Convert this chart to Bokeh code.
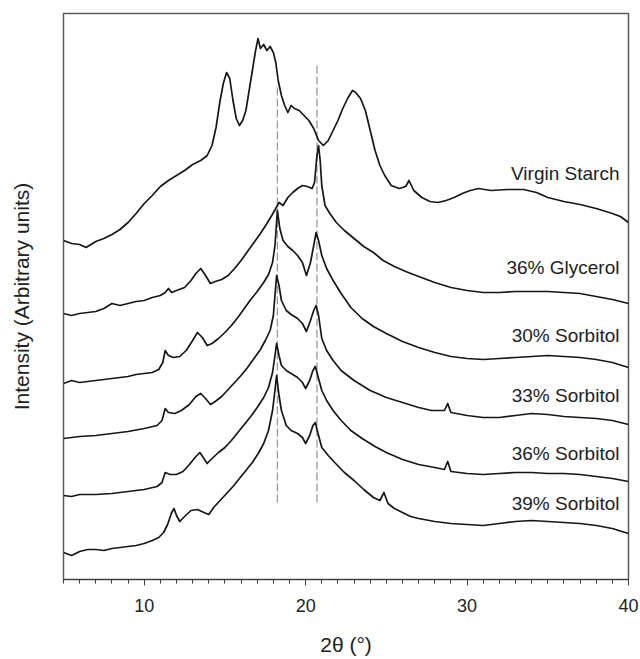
from bokeh.plotting import figure
from bokeh.models import FixedTicker, Range1d
from bokeh.core.properties import value
from bokeh.embed import file_html
from bokeh.resources import INLINE

# ---- data (2theta in degrees, intensity in arbitrary units, stacked as plotted) ----
virgin_x = [5.0, 5.5, 6.0, 6.4, 7.0, 7.5, 8.0, 8.5, 9.0, 9.5, 10.0, 10.5, 11.0, 11.5, 12.0, 12.5,
            13.0, 13.5, 13.9, 14.2, 14.45, 14.7, 14.9, 15.1, 15.3, 15.5, 15.7, 15.9, 16.1, 16.3,
            16.5, 16.7, 16.9, 17.05, 17.2, 17.4, 17.6, 17.8, 18.0, 18.15, 18.3, 18.5, 18.7, 18.9,
            19.1, 19.3, 19.6, 19.9, 20.2, 20.5, 20.8, 21.1, 21.4, 21.7, 22.0, 22.3, 22.6, 22.9,
            23.1, 23.4, 23.7, 24.0, 24.3, 24.6, 24.9, 25.3, 25.8, 26.2, 26.4, 26.7, 27.2, 27.7,
            28.2, 28.7, 29.2, 29.7, 30.2, 30.7, 31.5, 32.5, 33.5, 34.3, 35.0, 36.0, 37.0, 38.0,
            39.0, 39.5, 40.0]
virgin_y = [339, 336, 335, 332, 338, 341, 345, 350, 357, 366, 376, 384, 393, 399, 404, 409,
            415, 419, 424, 434, 452, 479, 496, 507, 501, 479, 461, 454, 459, 469,
            489, 509, 529, 541, 531, 535, 529, 533, 527, 517, 499, 484, 474, 467,
            474, 471, 469, 464, 459, 451, 439, 434, 439, 449, 459, 471, 481, 489,
            487, 481, 469, 449, 429, 414, 404, 394, 391, 393, 399, 389, 382, 378,
            377, 379, 382, 386, 389, 391, 389, 390, 390, 387, 382, 378, 375, 371,
            366, 363, 357]

glycerol_x = [5.0, 5.5, 6.0, 6.5, 7.0, 7.5, 8.0, 8.5, 9.0, 9.5, 10.0, 10.5, 11.0, 11.3, 11.5, 11.7,
              12.0, 12.5, 12.9, 13.2, 13.5, 13.8, 14.1, 14.4, 14.8, 15.2, 15.6, 16.0, 16.4, 16.8,
              17.2, 17.6, 17.9, 18.15, 18.35, 18.6, 18.9, 19.2, 19.5, 19.8, 20.1, 20.4, 20.55, 20.7,
              20.8, 20.9, 21.0, 21.2, 21.5, 21.9, 22.4, 23.0, 23.6, 24.2, 24.8, 25.5, 26.2, 27.0,
              28.0, 29.0, 30.0, 31.0, 32.0, 33.0, 34.0, 35.0, 36.0, 37.0, 38.0, 39.0, 40.0]
glycerol_y = [266, 264, 266, 267, 268, 271, 276, 274, 276, 278, 279, 282, 284, 287, 291, 287,
              289, 292, 299, 306, 311, 304, 296, 298, 300, 304, 311, 319, 328, 337,
              346, 356, 364, 371, 377, 374, 382, 387, 391, 394, 393, 391, 397, 424,
              434, 419, 394, 374, 366, 357, 349, 341, 333, 327, 319, 313, 308, 303,
              297, 292, 289, 287, 287, 288, 288, 288, 287, 286, 283, 280, 276]

sorb30_x = [5.0, 5.5, 6.0, 6.5, 7.0, 7.5, 8.0, 8.5, 9.0, 9.5, 10.0, 10.5, 10.9, 11.15, 11.3, 11.5,
            11.8, 12.2, 12.6, 13.0, 13.3, 13.6, 13.9, 14.2, 14.6, 15.0, 15.4, 15.8, 16.2, 16.6,
            17.0, 17.4, 17.7, 17.95, 18.1, 18.25, 18.4, 18.6, 18.9, 19.2, 19.5, 19.8, 20.05, 20.3,
            20.5, 20.65, 20.8, 21.0, 21.3, 21.7, 22.2, 22.8, 23.5, 24.2, 25.0, 26.0, 27.0, 28.0,
            29.0, 30.0, 31.0, 32.0, 33.0, 34.0, 35.0, 36.0, 37.0, 38.0, 39.0, 40.0]
sorb30_y = [196, 199, 197, 198, 199, 200, 201, 202, 203, 205, 206, 207, 210, 217, 229, 224,
            222, 223, 229, 239, 247, 242, 234, 236, 241, 247, 254, 262, 271, 280,
            288, 297, 305, 317, 334, 369, 351, 339, 333, 329, 324, 317, 304, 317,
            334, 347, 339, 324, 311, 299, 286, 272, 261, 253, 246, 238, 232, 227,
            223, 221, 220, 221, 222, 223, 224, 223, 222, 220, 217, 212]

sorb33_x = [5.0, 5.5, 6.0, 7.0, 8.0, 9.0, 10.0, 10.8, 11.1, 11.3, 11.5, 11.9, 12.3, 12.8, 13.2, 13.5,
            13.8, 14.1, 14.4, 14.8, 15.2, 15.6, 16.0, 16.4, 16.8, 17.2, 17.5, 17.8, 18.0, 18.2,
            18.35, 18.5, 18.8, 19.1, 19.5, 19.8, 20.05, 20.3, 20.5, 20.65, 20.8, 21.0, 21.3, 21.7,
            22.2, 23.0, 24.0, 25.0, 26.0, 27.0, 27.8, 28.6, 28.8, 29.0, 30.0, 31.0, 32.0, 33.0,
            34.0, 35.0, 36.0, 37.0, 38.0, 39.0, 40.0]
sorb33_y = [141, 142, 143, 144, 146, 148, 151, 154, 159, 171, 167, 166, 169, 175, 183, 186,
            181, 175, 178, 183, 190, 197, 204, 212, 221, 230, 239, 249, 264, 304,
            294, 279, 269, 265, 261, 256, 248, 259, 269, 274, 264, 241, 229, 219,
            209, 199, 189, 182, 177, 172, 169, 169, 176, 167, 164, 162, 162, 164,
            166, 165, 163, 162, 161, 159, 155]

sorb36_x = [5.0, 5.5, 6.0, 7.0, 8.0, 9.0, 10.0, 10.8, 11.1, 11.3, 11.6, 12.0, 12.4, 12.8, 13.2, 13.45,
            13.7, 13.9, 14.2, 14.6, 15.0, 15.4, 15.8, 16.2, 16.6, 17.0, 17.4, 17.7, 17.95, 18.1,
            18.2, 18.35, 18.5, 18.8, 19.1, 19.5, 19.8, 20.0, 20.25, 20.45, 20.6, 20.75, 21.0, 21.3,
            21.7, 22.2, 22.8, 23.5, 24.3, 25.0, 26.0, 27.0, 28.0, 28.6, 28.8, 29.0, 30.0, 31.0,
            32.0, 33.0, 34.0, 35.0, 36.0, 37.0, 38.0, 39.0, 40.0]
sorb36_y = [84, 83, 85, 85, 86, 88, 90, 93, 97, 107, 105, 105, 108, 115, 123, 127,
            121, 116, 121, 127, 132, 139, 147, 155, 163, 172, 182, 192, 207, 224,
            236, 224, 214, 209, 206, 202, 197, 191, 199, 209, 213, 204, 189, 179,
            169, 159, 149, 141, 133, 127, 120, 115, 112, 110, 118, 108, 106, 105,
            106, 107, 107, 106, 106, 105, 103, 101, 98]

sorb39_x = [5.0, 5.5, 6.0, 6.5, 7.0, 7.5, 8.0, 8.5, 9.0, 9.5, 10.0, 10.5, 10.9, 11.2, 11.45, 11.7,
            11.85, 12.0, 12.2, 12.5, 12.9, 13.3, 13.7, 14.0, 14.3, 14.7, 15.1, 15.5, 15.9, 16.3,
            16.7, 17.1, 17.4, 17.7, 17.95, 18.1, 18.2, 18.35, 18.5, 18.8, 19.1, 19.5, 19.8, 20.0,
            20.25, 20.45, 20.6, 20.75, 21.0, 21.4, 21.8, 22.4, 23.0, 23.6, 24.2, 24.6, 24.85, 25.1,
            25.5, 26.0, 26.5, 27.0, 28.0, 29.0, 30.0, 31.0, 32.0, 33.0, 34.0, 35.0, 36.0, 37.0,
            38.0, 39.0, 40.0]
sorb39_y = [27, 24, 28, 30, 30, 29, 31, 32, 33, 34, 36, 39, 42, 47, 55, 67,
            71, 64, 58, 63, 69, 70, 67, 65, 72, 79, 86, 93, 101, 109,
            117, 127, 136, 149, 169, 189, 204, 184, 169, 154, 149, 146, 142, 136,
            144, 154, 157, 147, 132, 124, 117, 107, 99, 90, 82, 79, 87, 76,
            71, 67, 63, 61, 58, 56, 55, 54, 56, 58, 59, 58, 57, 56,
            54, 51, 46]

series_names = ["Virgin Starch", "36% Glycerol", "30% Sorbitol", "33% Sorbitol", "36% Sorbitol", "39% Sorbitol"]
series_x = [virgin_x, glycerol_x, sorb30_x, sorb33_x, sorb36_x, sorb39_x]
series_y = [virgin_y, glycerol_y, sorb30_y, sorb33_y, sorb36_y, sorb39_y]

# reference peak positions (dashed guides)
peak_positions = [18.25, 20.7]
peak_bottom = [77, 77]
peak_top = [492, 516]

x_major_ticks = [10, 20, 30, 40]
x_minor_ticks = list(range(5, 41))

# ---- layout ----
label_x = 39.44
label_y = [406, 312, 244, 184, 126, 76]

FONT = "Liberation Sans"

p = figure(width=640, height=659, output_backend="svg", toolbar_location=None,
           x_range=Range1d(5, 40), y_range=Range1d(0, 566),
           min_border_left=63, min_border_right=12, min_border_top=13, min_border_bottom=80)

p.background_fill_color = "white"
p.border_fill_color = "white"
p.xgrid.grid_line_color = None
p.ygrid.grid_line_color = None
p.outline_line_color = "#5a5a5a"
p.outline_line_width = 1.5

# x axis
xa = p.xaxis[0]
xa.ticker = FixedTicker(ticks=x_major_ticks, minor_ticks=x_minor_ticks)
xa.major_tick_in = 0
xa.major_tick_out = 6
xa.minor_tick_in = 0
xa.minor_tick_out = 4
xa.axis_line_color = "#3a3a3a"
xa.major_tick_line_color = "#3a3a3a"
xa.minor_tick_line_color = "#3a3a3a"
xa.major_label_text_font = FONT
xa.major_label_text_font_size = "18px"
xa.major_label_text_color = "#222222"
xa.major_label_standoff = 13
xa.axis_label = "2θ (°)"
xa.axis_label_text_font = FONT
xa.axis_label_text_font_size = "21px"
xa.axis_label_text_font_style = "normal"
xa.axis_label_text_color = "#222222"
xa.axis_label_standoff = 18

# y axis: only the title
ya = p.yaxis[0]
ya.ticker = FixedTicker(ticks=[])
ya.major_tick_out = 0
ya.major_tick_in = 0
ya.minor_tick_out = 0
ya.minor_tick_in = 0
ya.axis_line_color = None
ya.major_label_text_font_size = "0px"
ya.axis_label = "Intensity (Arbitrary units)"
ya.axis_label_text_font = FONT
ya.axis_label_text_font_size = "21px"
ya.axis_label_text_font_style = "normal"
ya.axis_label_text_color = "#222222"
ya.axis_label_standoff = 31

# dashed guides
p.segment(x0=peak_positions, y0=peak_bottom, x1=peak_positions, y1=peak_top,
          line_color="#9a9a9a", line_width=1.3, line_dash="8 3")

# curves
for xs, ys in zip(series_x, series_y):
    p.line(xs, ys, line_color="#161616", line_width=1.7, line_join="round")

# curve labels
p.text(x=[label_x] * len(series_names), y=label_y, text=series_names,
       text_align="right", text_baseline="middle",
       text_font=value(FONT), text_font_size="19px", text_color="#222222")

open("out.html", "w").write(file_html(p, INLINE))
